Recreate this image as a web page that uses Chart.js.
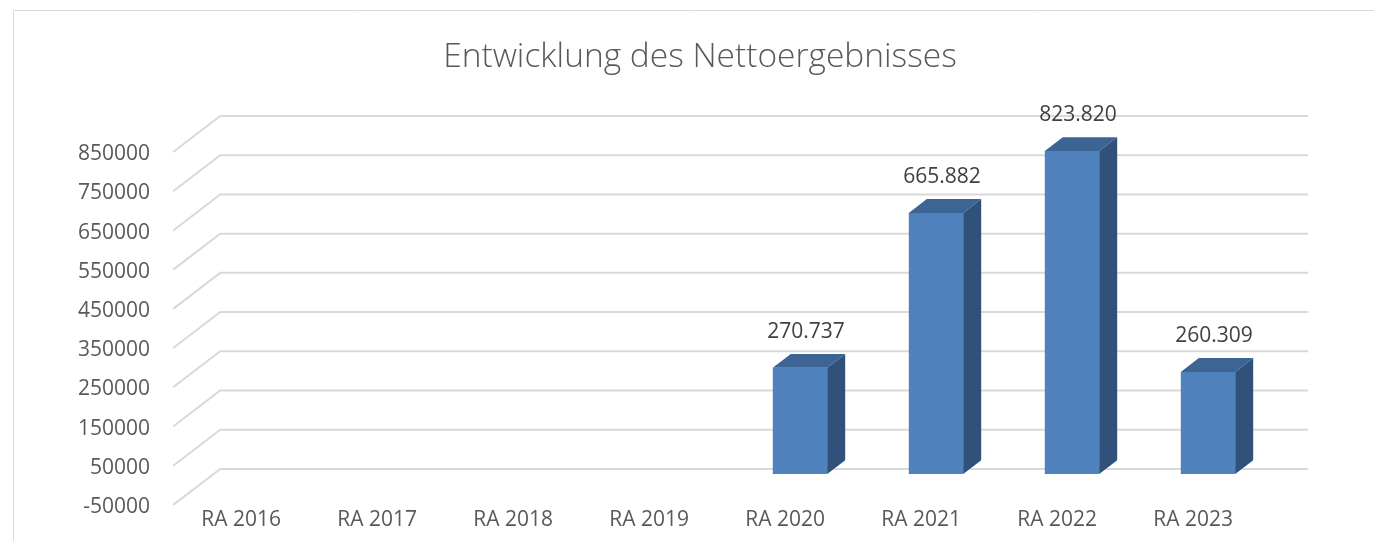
<!DOCTYPE html>
<html>
<head>
<meta charset="utf-8">
<script src="https://cdn.jsdelivr.net/npm/chart.js@4.4.1/dist/chart.umd.min.js"></script>
<style>
  html, body { margin: 0; padding: 0; background: #ffffff; }
  #wrap { position: relative; width: 1374px; height: 541px; }
  canvas { display: block; }
</style>
</head>
<body>
<div id="wrap"><canvas id="c" width="1374" height="541"></canvas></div>
<script>
// ---- data ----
const categories = ["RA 2016", "RA 2017", "RA 2018", "RA 2019", "RA 2020", "RA 2021", "RA 2022", "RA 2023"];
const nettoergebnis = [null, null, null, null, 270737, 665882, 823820, 260309];
const chartTitle = "Entwicklung des Nettoergebnisses";
const yMin = -50000;
const yMax = 850000;
const yStep = 100000;

// ---- style ----
const FONT = "'Open Sans', 'Liberation Sans', sans-serif";
const GRID = "#D9D9D9";
const FRONT = "#4F81BD";
const TOP = "#3C6596";
const SIDE = "#30527A";
const BACK_DX = 32.2, BACK_DY = 24.7;   // bar plane -> back wall
const FRONT_DX = 14.8, FRONT_DY = 11.3; // bar plane -> front edge
const DEPTH_DX = 18, DEPTH_DY = 13.8;   // bar depth

function fmtDE(v) {
  return String(v).replace(/\B(?=(\d{3})+(?!\d))/g, ".");
}

const framePlugin = {
  id: "frame",
  beforeDraw(chart) {
    const ctx = chart.ctx;
    ctx.save();
    ctx.strokeStyle = GRID;
    ctx.lineWidth = 1;
    ctx.beginPath();
    ctx.moveTo(13.5, 541);
    ctx.lineTo(13.5, 10.5);
    ctx.lineTo(1374, 10.5);
    ctx.stroke();
    ctx.restore();
  }
};

const gridPlugin = {
  id: "grid3d",
  beforeDatasetsDraw(chart) {
    const ctx = chart.ctx;
    const ys = chart.scales.y;
    const area = chart.chartArea;
    ctx.save();
    ctx.strokeStyle = GRID;
    ctx.lineWidth = 2;
    ys.ticks.forEach(t => {
      const y = ys.getPixelForValue(t.value);
      ctx.beginPath();
      ctx.moveTo(area.left - FRONT_DX, y + FRONT_DY);
      ctx.lineTo(area.left + BACK_DX, y - BACK_DY);
      ctx.lineTo(area.right + BACK_DX, y - BACK_DY);
      ctx.stroke();
    });
    ctx.restore();
  }
};

const bar3dPlugin = {
  id: "bar3d",
  afterDatasetsDraw(chart) {
    const ctx = chart.ctx;
    const meta = chart.getDatasetMeta(0);
    const data = chart.data.datasets[0].data;
    ctx.save();
    meta.data.forEach((el, i) => {
      if (data[i] === null || data[i] === undefined) return;
      const p = el.getProps(["x", "y", "base", "width"], true);
      const l = p.x - p.width / 2, r = p.x + p.width / 2;
      const top = Math.min(p.y, p.base), bot = Math.max(p.y, p.base);
      // top face
      ctx.fillStyle = TOP;
      ctx.beginPath();
      ctx.moveTo(l, top);
      ctx.lineTo(l + DEPTH_DX, top - DEPTH_DY);
      ctx.lineTo(r + DEPTH_DX, top - DEPTH_DY);
      ctx.lineTo(r, top);
      ctx.closePath();
      ctx.fill();
      // side face
      ctx.fillStyle = SIDE;
      ctx.beginPath();
      ctx.moveTo(r, top);
      ctx.lineTo(r + DEPTH_DX, top - DEPTH_DY);
      ctx.lineTo(r + DEPTH_DX, bot - DEPTH_DY);
      ctx.lineTo(r, bot);
      ctx.closePath();
      ctx.fill();
      // data label
      ctx.fillStyle = "#404040";
      ctx.font = "21px " + FONT;
      ctx.textAlign = "center";
      ctx.textBaseline = "middle";
      ctx.fillText(fmtDE(data[i]), p.x + 6, top - 36);
    });
    ctx.restore();
  }
};

new Chart(document.getElementById("c"), {
  type: "bar",
  data: {
    labels: categories,
    datasets: [{
      label: "Nettoergebnis",
      data: nettoergebnis,
      backgroundColor: FRONT,
      borderWidth: 0,
      categoryPercentage: 1.0,
      barPercentage: 0.40
    }]
  },
  options: {
    responsive: false,
    animation: false,
    devicePixelRatio: 1,
    layout: { padding: { left: 26, right: 0, top: 0, bottom: 0 } },
    plugins: {
      legend: { display: false },
      tooltip: { enabled: false },
      title: {
        display: true,
        text: chartTitle,
        color: "#595959",
        font: { family: FONT, size: 33.5, weight: "300", lineHeight: 1.2 },
        padding: { top: 37, bottom: 63.5 }
      }
    },
    scales: {
      x: {
        grid: { display: false },
        border: { display: false },
        ticks: {
          color: "#595959",
          font: { family: FONT, size: 21 },
          padding: 6,
          labelOffset: -FRONT_DX,
          maxRotation: 0,
          autoSkip: false
        },
        afterFit(s) { s.height = 47.4; }
      },
      y: {
        min: yMin,
        max: yMax,
        grid: { display: false },
        border: { display: false },
        ticks: {
          stepSize: yStep,
          color: "#595959",
          font: { family: FONT, size: 21 },
          padding: 30,
          labelOffset: 13.5,
          callback: v => String(v)
        },
        afterFit(s) { s.width = 162; }
      },
      yRight: {
        type: "linear",
        position: "right",
        display: true,
        grid: { display: false },
        border: { display: false },
        ticks: { display: false },
        afterFit(s) { s.width = 98; }
      }
    }
  },
  plugins: [framePlugin, gridPlugin, bar3dPlugin]
});
</script>
</body>
</html>
